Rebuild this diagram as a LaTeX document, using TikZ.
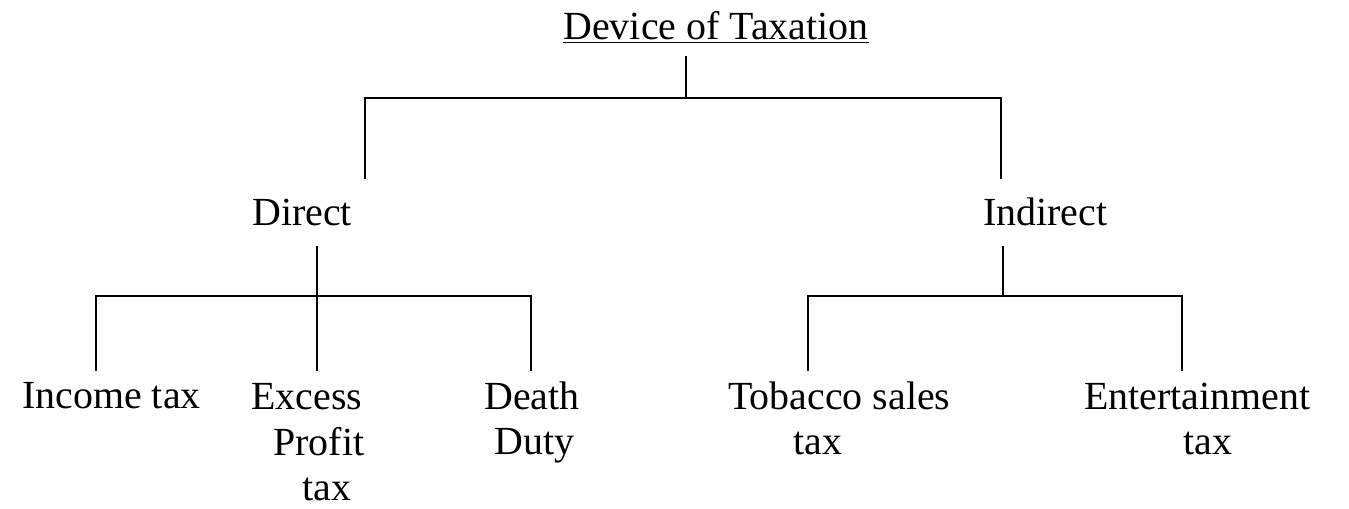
\documentclass[tikz,border=0pt]{standalone}
\usepackage{fontspec}
\setmainfont{Liberation Serif}
\begin{document}
\begin{tikzpicture}[x=0.02cm,y=-0.02cm,
  lbl/.style={inner sep=0pt,anchor=base west,align=left,font=\fontsize{22.7}{26}\selectfont},
  conn/.style={line width=1.4pt,line cap=rect}]
\useasboundingbox (0,0) rectangle (1349,509);
% labels (multi-line nodes anchored at their last baseline)
\node[lbl,anchor=base] (root) at (716,40) {\underline{Device of Taxation}};
\node[lbl] (direct) at (252,226) {Direct};
\node[lbl] (indirect) at (983,226) {Indirect};
\node[lbl] (income) at (22,409) {Income tax};
\node[lbl] (excess) at (251,501) {Excess\\\hspace*{0.44cm}Profit\\\hspace*{1.02cm}tax};
\node[lbl] (death) at (484,455) {Death\\\hspace*{0.2cm}Duty};
\node[lbl] (tobacco) at (728,455) {Tobacco sales\\\hspace*{1.3cm}tax};
\node[lbl] (enter) at (1084,455) {Entertainment\\\hspace*{1.98cm}tax};
% junction coordinates
\coordinate (rtop) at (686,57);
\coordinate (rj) at (686,98);
\coordinate (rl) at (365,98);
\coordinate (rr) at (1001,98);
\coordinate (dl) at (365,178);
\coordinate (il) at (1001,178);
\coordinate (dtop) at (317,247);
\coordinate (dj) at (317,296);
\coordinate (d1j) at (96,296);
\coordinate (d3j) at (531,296);
\coordinate (d1) at (96,370);
\coordinate (d2) at (317,370);
\coordinate (d3) at (531,370);
\coordinate (itop) at (1003,247);
\coordinate (ij) at (1003,296);
\coordinate (i1j) at (808,296);
\coordinate (i2j) at (1182,296);
\coordinate (i1) at (808,370);
\coordinate (i2) at (1182,370);
% connectors
\draw[conn] (rtop) -- (rj);
\draw[conn] (dl) -- (rl) -- (rr) -- (il);
\draw[conn] (dtop) -- (dj);
\draw[conn] (d1) -- (d1j) -- (d3j) -- (d3);
\draw[conn] (dj) -- (d2);
\draw[conn] (itop) -- (ij);
\draw[conn] (i1) -- (i1j) -- (i2j) -- (i2);
\end{tikzpicture}
\end{document}
